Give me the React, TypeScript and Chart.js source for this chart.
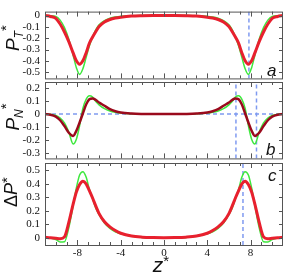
import React, { useEffect, useRef } from "react";
import { Chart, registerables } from "chart.js";

Chart.register(...registerables);

// z* positions shared by all three panels
const Z = [
  -11, -10.5, -10, -9.6, -9.2, -8.8, -8.4, -8.1, -7.8, -7.5, -7.2, -6.9, -6.6, -6.3, -6, -5.5, -5, -4.5, -4, -3, -2, -1,
  0,
  1, 2, 3, 4, 4.5, 5, 5.5, 6, 6.3, 6.6, 6.9, 7.2, 7.5, 7.8, 8.1, 8.4, 8.8, 9.2, 9.6, 10, 10.5, 11,
];

// panel a: P_T*
const PT_RED = [
  0, -0.008, -0.025, -0.075, -0.145, -0.23, -0.33, -0.4, -0.43, -0.4, -0.33, -0.245, -0.19, -0.14, -0.097, -0.057, -0.035, -0.022, -0.014, -0.004, -0.001, 0,
  0,
  0, -0.001, -0.004, -0.014, -0.022, -0.035, -0.057, -0.097, -0.14, -0.19, -0.245, -0.33, -0.4, -0.43, -0.4, -0.33, -0.23, -0.145, -0.075, -0.025, -0.008, 0,
];
const PT_GREEN = [
  0, -0.001, -0.008, -0.04, -0.107, -0.21, -0.35, -0.46, -0.52, -0.47, -0.37, -0.27, -0.19, -0.125, -0.082, -0.045, -0.023, -0.012, -0.007, -0.002, 0, 0,
  0,
  0, 0, -0.002, -0.007, -0.012, -0.023, -0.045, -0.082, -0.125, -0.19, -0.27, -0.37, -0.47, -0.52, -0.46, -0.35, -0.21, -0.107, -0.04, -0.008, -0.001, 0,
];

// panel b: P_N*
const PN_RED = [
  0, -0.005, -0.02, -0.048, -0.093, -0.145, -0.17, -0.13, -0.065, 0.005, 0.075, 0.115, 0.122, 0.11, 0.09, 0.065, 0.038, 0.022, 0.012, 0.004, 0.001, 0,
  0,
  0, 0.001, 0.004, 0.012, 0.022, 0.038, 0.065, 0.09, 0.11, 0.122, 0.115, 0.075, 0.005, -0.065, -0.13, -0.17, -0.145, -0.093, -0.048, -0.02, -0.005, 0,
];
const PN_GREEN = [
  0, -0.002, -0.01, -0.03, -0.069, -0.14, -0.232, -0.195, -0.09, 0.045, 0.115, 0.142, 0.132, 0.098, 0.072, 0.042, 0.024, 0.014, 0.008, 0.002, 0, 0,
  0,
  0, 0, 0.002, 0.008, 0.014, 0.024, 0.042, 0.072, 0.098, 0.132, 0.142, 0.115, 0.045, -0.09, -0.195, -0.232, -0.14, -0.069, -0.03, -0.01, -0.002, 0,
];

// panel c: ΔP*
const DP_RED = [
  0.005, 0.002, -0.002, -0.006, 0.008, 0.115, 0.25, 0.34, 0.395, 0.42, 0.4, 0.35, 0.295, 0.235, 0.18, 0.12, 0.082, 0.055, 0.035, 0.014, 0.006, 0.003,
  0.002,
  0.003, 0.006, 0.014, 0.035, 0.055, 0.082, 0.12, 0.18, 0.235, 0.295, 0.35, 0.4, 0.42, 0.395, 0.34, 0.25, 0.115, 0.008, -0.006, -0.002, 0.002, 0.005,
];
const DP_GREEN = [
  0.003, 0, -0.012, -0.03, -0.028, 0.075, 0.24, 0.37, 0.465, 0.49, 0.45, 0.36, 0.29, 0.22, 0.172, 0.11, 0.07, 0.045, 0.03, 0.012, 0.004, 0.001,
  0,
  0.001, 0.004, 0.012, 0.03, 0.045, 0.07, 0.11, 0.172, 0.22, 0.29, 0.36, 0.45, 0.49, 0.465, 0.37, 0.24, 0.075, -0.028, -0.03, -0.012, 0, 0.003,
];

// axis ranges
const X_RANGE = [-11, 11];
const PT_RANGE = [-0.555, 0.035];
const PN_RANGE = [-0.345, 0.25];
const DP_RANGE = [-0.052, 0.554];

// dashed guide lines
const PT_MARK_Z = [7.85];
const PN_MARK_Z = [6.65, 8.55];
const PN_MARK_Y = [0];
const DP_MARK_Z = [7.3];

const RED = "#e8202e";
const DARK_RED = "#9a0a1c";
const GREEN = "#3ee83e";
const BLUE = "#7f9af0";

const toXY = (ys: number[]) => Z.map((z, i) => ({ x: z, y: ys[i] }));

const framePlugin = {
  id: "frame",
  afterDatasetsDraw(chart: any) {
    const { ctx, chartArea } = chart;
    const { left, right, top, bottom } = chartArea;
    const x = chart.scales.x;
    const y = chart.scales.y;
    ctx.save();
    ctx.strokeStyle = "#555";
    ctx.lineWidth = 1;
    ctx.beginPath();
    for (let v = Math.ceil(x.min) + 1; v < x.max; v++) {
      const px = Math.round(x.getPixelForValue(v)) + 0.5;
      const len = v % 4 === 0 ? 5 : 3;
      ctx.moveTo(px, bottom);
      ctx.lineTo(px, bottom - len);
      ctx.moveTo(px, top);
      ctx.lineTo(px, top + len);
    }
    y.ticks.forEach((t: any) => {
      const py = Math.round(y.getPixelForValue(t.value)) + 0.5;
      ctx.moveTo(left, py);
      ctx.lineTo(left + 4, py);
      ctx.moveTo(right, py);
      ctx.lineTo(right - 4, py);
    });
    ctx.stroke();
    ctx.strokeRect(left + 0.5, top + 0.5, right - left - 1, bottom - top);
    ctx.restore();
  },
};

type PanelProps = {
  top: number;
  height: number;
  padTop: number;
  padBottom: number;
  range: number[];
  datasets: any[];
  showX: boolean;
};

function Panel({ top, height, padTop, padBottom, range, datasets, showX }: PanelProps) {
  const ref = useRef<HTMLCanvasElement | null>(null);
  useEffect(() => {
    if (!ref.current) return;
    const xScale: any = {
      type: "linear",
      min: X_RANGE[0],
      max: X_RANGE[1],
      display: showX,
      grid: { display: false, drawTicks: false },
      border: { display: false },
      ticks: {
        stepSize: 4,
        includeBounds: false,
        autoSkip: false,
        maxRotation: 0,
        padding: 2,
        color: "#111",
        font: { family: '"Liberation Serif", "Times New Roman", serif', size: 11 },
      },
    };
    if (showX) {
      xScale.afterFit = (s: any) => {
        s.height = 28;
      };
    }
    const chart = new Chart(ref.current, {
      type: "line",
      data: { datasets },
      plugins: [framePlugin],
      options: {
        animation: false,
        responsive: false,
        events: [],
        layout: { padding: { top: padTop, bottom: padBottom, left: 0, right: 2 } },
        plugins: { legend: { display: false }, tooltip: { enabled: false } },
        elements: { point: { radius: 0 } },
        scales: {
          x: xScale,
          y: {
            type: "linear",
            min: range[0],
            max: range[1],
            grid: { display: false, drawTicks: false },
            border: { display: false },
            afterFit: (s: any) => {
              s.width = 45;
            },
            ticks: {
              stepSize: 0.1,
              includeBounds: false,
              autoSkip: false,
              padding: 5,
              color: "#111",
              font: { family: '"Liberation Serif", "Times New Roman", serif', size: 11 },
              callback: (v: any) => String(Math.round(Number(v) * 10) / 10),
            },
          },
        },
      } as any,
    });
    return () => chart.destroy();
  }, []);
  return (
    <canvas
      ref={ref}
      width={285}
      height={height}
      style={{ position: "absolute", left: 0, top, width: 285, height }}
    />
  );
}

const curve = (data: number[], color: string, width: number, order: number) => ({
  data: toXY(data),
  borderColor: color,
  borderWidth: width,
  pointRadius: 0,
  cubicInterpolationMode: "monotone",
  fill: false,
  order,
});

const vLine = (z: number, range: number[]) => ({
  data: [
    { x: z, y: range[0] },
    { x: z, y: range[1] },
  ],
  borderColor: BLUE,
  borderWidth: 1.5,
  borderDash: [4, 3],
  pointRadius: 0,
  order: 5,
});

const hLine = (v: number) => ({
  data: [
    { x: X_RANGE[0], y: v },
    { x: X_RANGE[1], y: v },
  ],
  borderColor: BLUE,
  borderWidth: 1.5,
  borderDash: [4, 3],
  pointRadius: 0,
  order: 5,
});

function VLabel({ cx, cy, children }: { cx: number; cy: number; children: any }) {
  return (
    <div
      style={{
        position: "absolute",
        left: cx,
        top: cy,
        transform: "translate(-50%, -50%) rotate(-90deg)",
        whiteSpace: "nowrap",
        fontFamily: '"Liberation Sans", Arial, sans-serif',
        lineHeight: 1,
        color: "#111",
      }}
    >
      {children}
    </div>
  );
}

const sans = '"Liberation Sans", Arial, sans-serif';

export default function App() {
  const dsA = [
    ...PT_MARK_Z.map((z) => vLine(z, PT_RANGE)),
    curve(PT_GREEN, GREEN, 1.5, 2),
    curve(PT_RED, RED, 3, 1),
  ];
  const dsB = [
    ...PN_MARK_Y.map((v) => hLine(v)),
    ...PN_MARK_Z.map((z) => vLine(z, PN_RANGE)),
    curve(PN_GREEN, GREEN, 1.5, 2),
    curve(PN_RED, DARK_RED, 2.5, 1),
  ];
  const dsC = [
    ...DP_MARK_Z.map((z) => vLine(z, DP_RANGE)),
    curve(DP_GREEN, GREEN, 1.5, 2),
    curve(DP_RED, RED, 3, 1),
  ];
  return (
    <div
      style={{
        position: "fixed",
        left: 0,
        top: 0,
        width: 285,
        height: 273,
        background: "#fff",
        overflow: "hidden",
      }}
    >
      <Panel top={0} height={90} padTop={3} padBottom={8} range={PT_RANGE} datasets={dsA} showX={false} />
      <Panel top={70} height={100} padTop={12} padBottom={7} range={PN_RANGE} datasets={dsB} showX={false} />
      <Panel top={150} height={123} padTop={13} padBottom={0} range={DP_RANGE} datasets={dsC} showX={true} />

      <VLabel cx={12} cy={38}>
        <span style={{ fontStyle: "italic", fontSize: 19 }}>P</span>
        <span style={{ fontStyle: "italic", fontSize: 12, position: "relative", top: 4 }}>T</span>
        <span style={{ fontSize: 15, position: "relative", top: -8 }}>*</span>
      </VLabel>
      <VLabel cx={12} cy={117}>
        <span style={{ fontStyle: "italic", fontSize: 19 }}>P</span>
        <span style={{ fontStyle: "italic", fontSize: 12, position: "relative", top: 4 }}>N</span>
        <span style={{ fontSize: 15, position: "relative", top: -8 }}>*</span>
      </VLabel>
      <VLabel cx={11} cy={192}>
        <span style={{ fontSize: 18 }}>Δ</span>
        <span style={{ fontStyle: "italic", fontSize: 18 }}>P</span>
        <span style={{ fontSize: 15, position: "relative", top: -5 }}>*</span>
      </VLabel>

      <div
        style={{
          position: "absolute",
          left: 161,
          top: 264,
          transform: "translate(-50%, -50%)",
          fontFamily: sans,
          fontStyle: "italic",
          fontSize: 21,
          lineHeight: 1,
          whiteSpace: "nowrap",
          color: "#111",
        }}
      >
        z<span style={{ fontStyle: "normal", fontSize: 15, position: "relative", top: -6 }}>*</span>
      </div>

      <div style={{ position: "absolute", left: 267, top: 62, fontFamily: sans, fontStyle: "italic", fontSize: 17, lineHeight: 1, color: "#111" }}>a</div>
      <div style={{ position: "absolute", left: 266, top: 141, fontFamily: sans, fontStyle: "italic", fontSize: 17, lineHeight: 1, color: "#111" }}>b</div>
      <div style={{ position: "absolute", left: 268, top: 167, fontFamily: sans, fontStyle: "italic", fontSize: 17, lineHeight: 1, color: "#111" }}>c</div>
    </div>
  );
}
